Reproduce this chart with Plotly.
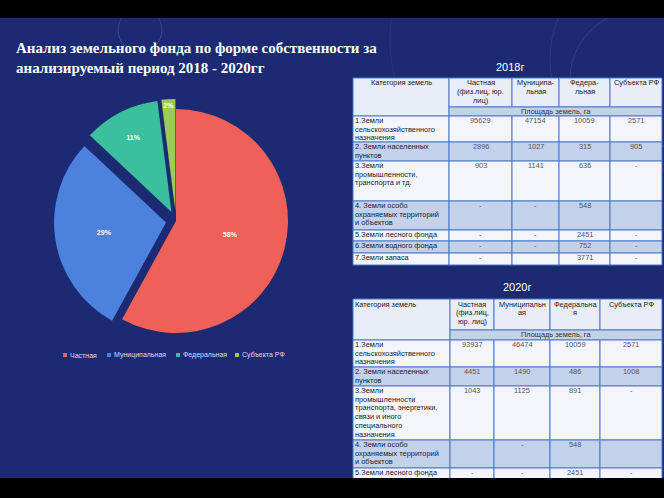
import plotly.graph_objects as go

W, H = 664, 498

# ---------------- data ----------------
pie_labels = ["Частная", "Муниципальная", "Федеральная", "Субъекта РФ"]
pie_values = [58, 29, 11, 2]

title_text = "Анализ земельного фонда по форме собственности за<br>анализируемый период 2018 - 2020гг"
unit_label = "Площадь земель, га"

year_2018 = "2018г"
hdr_2018 = ["Категория земель", "Частная<br>(физ.лиц, юр.<br>лиц)", "Муниципа-<br>льная", "Федера-<br>льная", "Субъекта РФ"]
cat_2018 = ["1.Земли<br>сельскохозяйственного<br>назначения",
            "2. Земли населенных<br>пунктов",
            "3.Земли<br>промышленности,<br>транспорта и тд.",
            "4. Земли особо<br>охраняемых территорий<br>и объектов",
            "5.Земли лесного фонда",
            "6.Земли водного фонда",
            "7.Земли запаса"]
priv_2018 = ["95629", "2896", "903", "-", "-", "-", "-"]
mun_2018 = ["47154", "1027", "1141", "-", "-", "-", ""]
fed_2018 = ["10059", "315", "636", "548", "2451", "752", "3771"]
subj_2018 = ["2571", "905", "-", "", "-", "-", "-"]

year_2020 = "2020г"
hdr_2020 = ["Категория земель", "Частная<br>(физ.лиц,<br>юр. лиц)", "Муниципальн<br>ая", "Федеральна<br>я", "Субъекта РФ"]
cat_2020 = ["1.Земли<br>сельскохозяйственного<br>назначения",
            "2. Земли населенных<br>пунктов",
            "3.Земли<br>промышленности<br>транспорта, энергетики,<br>связи и иного<br>специального<br>назначения",
            "4. Земли особо<br>охраняемых территорий<br>и объектов",
            "5.Земли лесного фонда"]
priv_2020 = ["93937", "4451", "1043", "", "-"]
mun_2020 = ["46474", "1490", "1125", "-", "-"]
fed_2020 = ["10059", "486", "891", "548", "2451"]
subj_2020 = ["2571", "1008", "-", "", "-"]

# ---------------- styles / layout constants ----------------
BG = "#1b2a72"
pie_colors = ["#ee6058", "#4c82de", "#3cbf9d", "#9ccc54"]
pie_pull = [0, 0.09, 0.09, 0.09]
TFONT = "Liberation Sans"
HDR_FILL = "#e8edf8"
ALT_FILL = "#c4d1ea"
ROW_FILL = "#f3f5fb"
GRID = "#4a78c8"
LINE_H = 8.7
TSIZE = 7.4


def px(x):
    return x / W


def py(y):
    return 1 - y / H


fig = go.Figure()

# pie: centre ~ (176, 221), radius ~112 px
cx, cy, r = 176, 221, 112
half = r * (1 + max(pie_pull))
fig.add_trace(go.Pie(
    labels=pie_labels, values=pie_values, sort=False, direction="clockwise",
    rotation=0, pull=pie_pull,
    marker=dict(colors=pie_colors, line=dict(width=0)),
    texttemplate="<b>%{value}%</b>", textposition="inside",
    insidetextorientation="horizontal",
    textfont=dict(family="Liberation Sans", size=7, color="white"),
    domain=dict(x=[px(cx - half), px(cx + half)], y=[py(cy + half), py(cy - half)]),
    showlegend=False, hoverinfo="label+percent",
))

shapes = []
annos = []

# background decorative arcs
for (ccx, ccy, rr, op) in [(140, 30, 22, 0.18), (640, 80, 70, 0.14), (660, 60, 110, 0.10), (540, 40, 150, 0.06)]:
    shapes.append(dict(type="circle", xref="paper", yref="paper",
                       x0=px(ccx - rr), x1=px(ccx + rr), y0=py(ccy + rr), y1=py(ccy - rr),
                       line=dict(color=f"rgba(200,210,255,{op})", width=1), layer="below"))

# title
annos.append(dict(xref="paper", yref="paper", x=px(14), y=py(38), xanchor="left", yanchor="top",
                  text="<b>" + title_text + "</b>", showarrow=False, align="left",
                  font=dict(family="Liberation Serif", size=15, color="white")))

# manual legend
leg_x = [63, 107, 176, 235]
for lbl, col, lx in zip(pie_labels, pie_colors, leg_x):
    shapes.append(dict(type="rect", xref="paper", yref="paper",
                       x0=px(lx), x1=px(lx + 4), y0=py(357), y1=py(353),
                       fillcolor=col, line=dict(width=0)))
    annos.append(dict(xref="paper", yref="paper", x=px(lx + 5), y=py(355), xanchor="left", yanchor="middle",
                      text=lbl, showarrow=False, font=dict(family=TFONT, size=7, color="#d8ddf2")))


def rect(x0, x1, y0, y1, fill):
    shapes.append(dict(type="rect", xref="paper", yref="paper",
                       x0=px(x0), x1=px(x1), y0=py(y1), y1=py(y0),
                       fillcolor=fill, line=dict(color=GRID, width=1)))


def txt(x, y, s, anchor="center", color="#222", size=TSIZE):
    # one annotation per text line, for tight control of line spacing
    for k, line in enumerate(s.split("<br>")):
        if not line:
            continue
        annos.append(dict(xref="paper", yref="paper", x=px(x), y=py(y + 4.5 + k * LINE_H),
                          xanchor=anchor, yanchor="middle", borderpad=0,
                          text=line, showarrow=False,
                          font=dict(family=TFONT, size=size, color=color)))


def draw_table(cols, rows, header, cats, data_cols, cat_hdr_align):
    top, hdr_bot, unit_bot = rows[0], rows[1], rows[2]
    # header cells
    rect(cols[0], cols[1], top, unit_bot, HDR_FILL)
    if cat_hdr_align == "center":
        txt((cols[0] + cols[1]) / 2, top + 0.5, header[0])
    else:
        txt(cols[0] + 1, top + 0.5, header[0], anchor="left")
    for j in range(1, len(cols) - 1):
        rect(cols[j], cols[j + 1], top, hdr_bot, HDR_FILL)
        txt((cols[j] + cols[j + 1]) / 2, top + 0.5, header[j])
    # unit row (merged across value columns)
    rect(cols[1], cols[-1], hdr_bot, unit_bot, ALT_FILL)
    txt((cols[1] + cols[-1]) / 2, hdr_bot, unit_label, color="#333")
    # data rows
    for i, cat in enumerate(cats):
        y0, y1 = rows[2 + i], rows[3 + i]
        fill = ROW_FILL if i % 2 == 0 else ALT_FILL
        for j in range(len(cols) - 1):
            rect(cols[j], cols[j + 1], y0, y1, fill)
        txt(cols[0] + 0.5, y0, cat, anchor="left", color="#1a1a2a")
        for j, colvals in enumerate(data_cols):
            txt((cols[j + 1] + cols[j + 2]) / 2, y0, colvals[i], color="#555")


# 2018 table
annos.append(dict(xref="paper", yref="paper", x=px(510), y=py(67), xanchor="center", yanchor="middle",
                  text=year_2018, showarrow=False, font=dict(family=TFONT, size=11, color="white")))
draw_table([353, 449, 512, 559, 610, 662],
           [78, 107, 116, 142, 161, 201, 230, 241, 253, 265],
           hdr_2018, cat_2018, [priv_2018, mun_2018, fed_2018, subj_2018], "center")

# 2020 table
annos.append(dict(xref="paper", yref="paper", x=px(517), y=py(287), xanchor="center", yanchor="middle",
                  text=year_2020, showarrow=False, font=dict(family=TFONT, size=11, color="white")))
draw_table([353, 450, 494, 550, 600, 662],
           [299, 330, 340, 367, 386, 440, 468, 482],
           hdr_2020, cat_2020, [priv_2020, mun_2020, fed_2020, subj_2020], "left")

# black letterbox bars
shapes.append(dict(type="rect", xref="paper", yref="paper", x0=0, x1=1, y0=py(18), y1=1,
                   fillcolor="black", line=dict(width=0), layer="above"))
shapes.append(dict(type="rect", xref="paper", yref="paper", x0=0, x1=1, y0=0, y1=py(478),
                   fillcolor="black", line=dict(width=0), layer="above"))

fig.update_layout(
    width=W, height=H, margin=dict(l=0, r=0, t=0, b=0),
    paper_bgcolor=BG, plot_bgcolor=BG,
    shapes=shapes, annotations=annos,
    xaxis=dict(visible=False), yaxis=dict(visible=False),
)

fig.write_html("out.html")
